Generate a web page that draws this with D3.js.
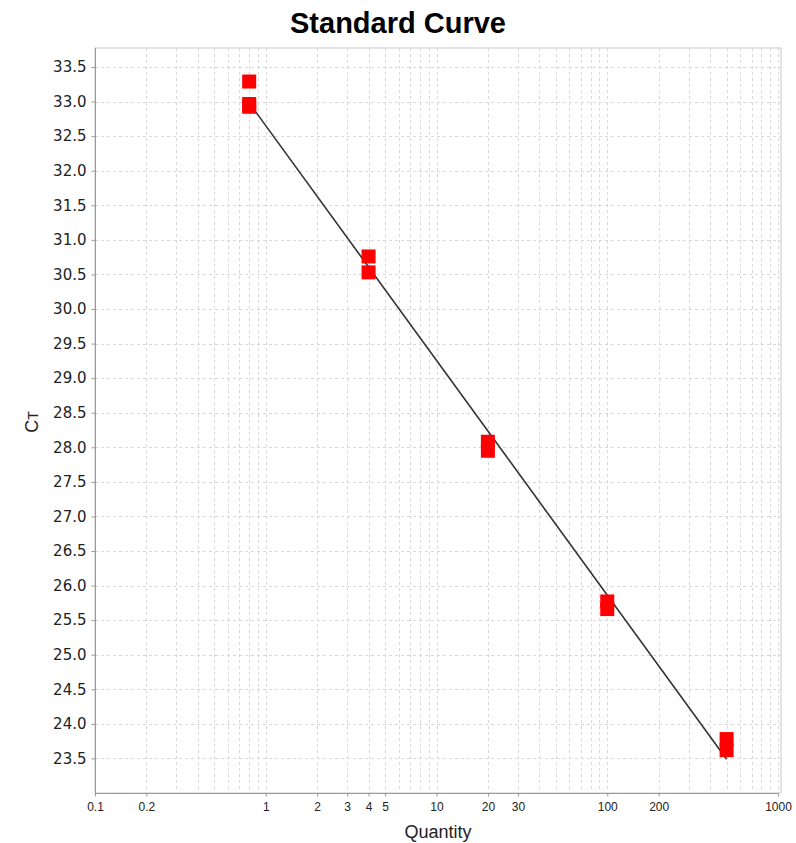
<!DOCTYPE html>
<html>
<head>
<meta charset="utf-8">
<script src="https://cdn.jsdelivr.net/npm/d3@7"></script>
<style>
  html, body { margin: 0; padding: 0; background: #fff; }
  svg { display: block; }
</style>
</head>
<body>
<div id="chart"></div>
<script>
// Standard curve: Ct versus starting quantity (log scale)
const quantities = [0.8, 0.8, 0.8, 4, 4, 20, 20, 100, 100, 500, 500];
const ctValues = [33.29, 32.965, 32.925, 30.76, 30.53, 28.08, 27.95, 25.77, 25.66, 23.78, 23.62];
const xTickLabels = [0.1, 0.2, 1, 2, 3, 4, 5, 10, 20, 30, 100, 200, 1000];
const yTickValues = [23.5, 24.0, 24.5, 25.0, 25.5, 26.0, 26.5, 27.0, 27.5, 28.0, 28.5, 29.0,
                     29.5, 30.0, 30.5, 31.0, 31.5, 32.0, 32.5, 33.0, 33.5];

const W = 796, H = 843;
const plot = { left: 95, right: 781, top: 48, bottom: 793 };

const svg = d3.select("#chart").append("svg")
  .attr("width", W).attr("height", H);

const x = d3.scaleLog().domain([0.1, 1000]).range([plot.left, 778]);
const y = d3.scaleLinear().domain([23.0, 33.775]).range([plot.bottom, plot.top]);

// Title
svg.append("text")
  .attr("x", 398).attr("y", 33)
  .attr("text-anchor", "middle")
  .style("font-family", "'Liberation Sans', Arial, sans-serif")
  .style("font-weight", "bold")
  .style("font-size", "29px")
  .text("Standard Curve");

// Frame (top and right)
svg.append("rect")
  .attr("x", plot.left).attr("y", plot.top)
  .attr("width", plot.right - plot.left).attr("height", plot.bottom - plot.top)
  .attr("fill", "none").attr("stroke", "#c8c8c8").attr("stroke-width", 1);

// Grid: every log minor tick vertically, every 0.5 horizontally
const minorX = [];
for (let e = -1; e < 3; e++) {
  for (let k = 1; k <= 9; k++) minorX.push(k * Math.pow(10, e));
}
minorX.push(1000);
const grid = svg.append("g")
  .attr("stroke", "#d8d8d8").attr("stroke-width", 1).attr("stroke-dasharray", "3,3");
grid.selectAll("line.vx").data(minorX.filter(v => v > 0.1)).join("line")
  .attr("x1", d => Math.round(x(d)) + 0.5).attr("x2", d => Math.round(x(d)) + 0.5)
  .attr("y1", plot.top).attr("y2", plot.bottom);
grid.selectAll("line.hy").data(yTickValues).join("line")
  .attr("x1", plot.left).attr("x2", plot.right)
  .attr("y1", d => Math.round(y(d)) + 0.5).attr("y2", d => Math.round(y(d)) + 0.5);

// Axes
const yAxis = d3.axisLeft(y).tickValues(yTickValues).tickFormat(d3.format(".1f"))
  .tickSize(4).tickPadding(5);
const gy = svg.append("g").attr("transform", `translate(${plot.left + 0.5},0)`).call(yAxis);
gy.select(".domain").attr("stroke", "#999").attr("d", `M0,${plot.top}V${plot.bottom}`);
gy.selectAll(".tick line").attr("stroke", "#999");
gy.selectAll(".tick text")
  .style("font-family", "'DejaVu Sans', Verdana, sans-serif")
  .style("font-size", "15px").attr("fill", "#222");

const xAxis = d3.axisBottom(x).tickValues(xTickLabels).tickFormat(d3.format("~g"))
  .tickSize(3).tickPadding(6);
const gx = svg.append("g").attr("transform", `translate(0,${plot.bottom + 0.5})`).call(xAxis);
gx.select(".domain").attr("stroke", "#999").attr("d", `M${plot.left},0H${x(1000)}`);
gx.selectAll(".tick line").attr("stroke", "#999");
gx.selectAll(".tick text")
  .style("font-family", "'Liberation Sans Narrow', 'Liberation Sans', Arial, sans-serif")
  .style("font-size", "12px").attr("fill", "#222");

// Axis titles
svg.append("text")
  .attr("x", 438).attr("y", 838)
  .attr("text-anchor", "middle")
  .style("font-family", "'Liberation Sans', Arial, sans-serif")
  .style("font-size", "18px").attr("fill", "#222")
  .text("Quantity");

const yTitle = svg.append("text")
  .attr("transform", "translate(38,422) rotate(-90)")
  .attr("text-anchor", "middle")
  .style("font-family", "'Liberation Sans', Arial, sans-serif")
  .style("font-size", "18px").attr("fill", "#222");
yTitle.append("tspan").text("C");
yTitle.append("tspan").style("font-size", "14px").text("T");

// Least-squares fit of Ct against log10(quantity)
const lx = quantities.map(q => Math.log10(q));
const mx = d3.mean(lx), my = d3.mean(ctValues);
const sxy = d3.sum(lx, (v, i) => (v - mx) * (ctValues[i] - my));
const sxx = d3.sum(lx, v => (v - mx) * (v - mx));
const slope = sxy / sxx, intercept = my - slope * mx;
const qMin = d3.min(quantities), qMax = d3.max(quantities);
const fit = [qMin, qMax].map(q => ({ q, ct: intercept + slope * Math.log10(q) }));

svg.append("path")
  .datum(fit)
  .attr("fill", "none").attr("stroke", "#333").attr("stroke-width", 1.6)
  .attr("d", d3.line().x(d => x(d.q)).y(d => y(d.ct)));

// Standards
const s = 14;
svg.append("g").selectAll("rect").data(quantities).join("rect")
  .attr("x", d => x(d) - s / 2)
  .attr("y", (d, i) => y(ctValues[i]) - s / 2)
  .attr("width", s).attr("height", s)
  .attr("fill", "#ff0000");
</script>
</body>
</html>
